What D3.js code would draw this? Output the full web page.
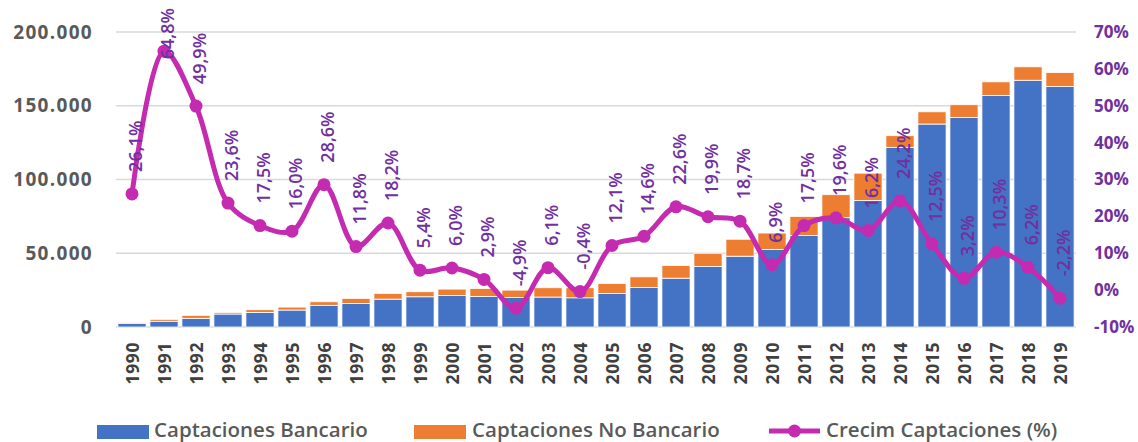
<!DOCTYPE html>
<html><head><meta charset="utf-8">
<script src="https://cdn.jsdelivr.net/npm/d3@7"></script>
<style>
html,body{margin:0;padding:0;background:#fff;}
svg{display:block;font-family:"Open Sans",sans-serif;}
</style></head>
<body><svg id="c" width="1138" height="442"></svg>
<script>
const years = ["1990","1991","1992","1993","1994","1995","1996","1997","1998","1999","2000","2001","2002","2003","2004","2005","2006","2007","2008","2009","2010","2011","2012","2013","2014","2015","2016","2017","2018","2019"];
const bancario = [2500,3900,5900,8800,9900,11500,14700,16000,18900,20500,21400,20700,20000,20300,19800,22800,26800,33100,41000,48000,52500,62000,74100,85800,121800,137600,142100,157000,167300,163000];
const noBancario = [400,1300,2000,1100,1800,2000,2400,3400,3900,3400,4300,5400,5000,6300,6800,6700,7200,8600,9000,11500,11200,13000,15600,18500,7900,8300,8600,9200,9100,9500];
const crecim = [26.1,64.8,49.9,23.6,17.5,16.0,28.6,11.8,18.2,5.4,6.0,2.9,-4.9,6.1,-0.4,12.1,14.6,22.6,19.9,18.7,6.9,17.5,19.6,16.2,24.2,12.5,3.2,10.3,6.2,-2.2];
const leftTicks = [0,50000,100000,150000,200000];
const rightTicks = [-10,0,10,20,30,40,50,60,70];
const seriesNames = ["Captaciones Bancario","Captaciones No Bancario","Crecim Captaciones (%)"];
const colors = ["#4472C4","#ED7D31","#C42BB0"];

const svg = d3.select("#c");
const x = d3.scaleBand().domain(years).range([116,1076]).paddingInner(0.12).paddingOuter(0.06);
const yL = d3.scaleLinear().domain([0,200000]).range([327,32]);
const yR = d3.scaleLinear().domain([-10,70]).range([327,32]);
const loc = d3.formatLocale({decimal:",",thousands:".",grouping:[3],currency:["",""],minus:"-"});
const fmtL = loc.format(",");
const fmtP = loc.format(".1f");

// gridlines
svg.append("g").selectAll("line").data(leftTicks).join("line")
  .attr("x1",116).attr("x2",1076)
  .attr("y1",d=>yL(d)).attr("y2",d=>yL(d))
  .attr("stroke","#d9d9d9").attr("stroke-width",1.5);

// left axis
const gL = svg.append("g").attr("transform","translate(96,0)")
  .call(d3.axisLeft(yL).tickValues(leftTicks).tickFormat(fmtL).tickSize(0).tickPadding(3));
gL.select(".domain").remove();
gL.selectAll("text").attr("font-family","Open Sans").attr("font-size",19).attr("font-weight",700)
  .attr("letter-spacing",1.3).attr("fill","#595959");

// right axis
const gR = svg.append("g").attr("transform","translate(1091,0)")
  .call(d3.axisRight(yR).tickValues(rightTicks).tickFormat(d=>loc.format("d")(d)+"%").tickSize(0).tickPadding(3));
gR.select(".domain").remove();
gR.selectAll("text").attr("font-family","Open Sans").attr("font-size",17).attr("font-weight",700).attr("fill","#7030A0");

// bars
const bw = x.bandwidth();
const gb = svg.append("g");
gb.selectAll("rect.b").data(years).join("rect").attr("class","b")
  .attr("x",d=>x(d)).attr("width",bw)
  .attr("y",(d,i)=>yL(bancario[i])).attr("height",(d,i)=>yL(0)-yL(bancario[i]))
  .attr("fill",colors[0]).attr("stroke","#fff").attr("stroke-width",0.8);
gb.selectAll("rect.n").data(years).join("rect").attr("class","n")
  .attr("x",d=>x(d)).attr("width",bw)
  .attr("y",(d,i)=>yL(bancario[i]+noBancario[i])).attr("height",(d,i)=>yL(bancario[i])-yL(bancario[i]+noBancario[i]))
  .attr("fill",colors[1]).attr("stroke","#fff").attr("stroke-width",0.8);

// x axis labels
const gX = svg.append("g").attr("transform","translate(0,337)")
  .call(d3.axisBottom(x).tickSize(0).tickPadding(0));
gX.select(".domain").remove();
gX.selectAll("text")
  .attr("font-family","Open Sans").attr("font-size",17.5).attr("font-weight",700).attr("fill","#404040")
  .attr("letter-spacing",0.6)
  .attr("transform","rotate(-90)").attr("text-anchor","end").attr("dy","0.36em").attr("x",-5).attr("y",1);

// line
const cx = d => x(d)+bw/2;
const line = d3.line().x((d,i)=>cx(years[i])).y(d=>yR(d)).curve(d3.curveCatmullRom.alpha(0.5));
svg.append("path").datum(crecim).attr("d",line).attr("fill","none")
  .attr("stroke",colors[2]).attr("stroke-width",5).attr("stroke-linejoin","round");
svg.append("g").selectAll("circle").data(crecim).join("circle")
  .attr("cx",(d,i)=>cx(years[i])).attr("cy",d=>yR(d)).attr("r",6.5).attr("fill",colors[2]);

// data labels
const gLab = svg.append("g");
crecim.forEach((v,i)=>{
  const px = cx(years[i])+3, py = yR(v);
  const t = gLab.append("text").text(fmtP(v)+"%")
    .attr("font-family","Open Sans").attr("font-size",18).attr("font-weight",600).attr("fill","#7030A0")
    .attr("dominant-baseline","central");
  const len = t.node().getComputedTextLength();
  let start = py-22;
  if (start-len < 8) start = 8+len;
  t.attr("transform",`translate(${px},${start}) rotate(-90)`);
});

// legend
const lg = svg.append("g");
lg.append("rect").attr("x",97).attr("y",425).attr("width",52).attr("height",14).attr("fill",colors[0]);
lg.append("rect").attr("x",414).attr("y",425).attr("width",52).attr("height",14).attr("fill",colors[1]);
lg.append("line").attr("x1",769).attr("x2",820).attr("y1",431).attr("y2",431).attr("stroke",colors[2]).attr("stroke-width",5);
lg.append("circle").attr("cx",794.5).attr("cy",431).attr("r",6.5).attr("fill",colors[2]);
const lx = [154,472,826];
seriesNames.forEach((s,i)=>{
  lg.append("text").attr("x",lx[i]).attr("y",437).text(s)
    .attr("font-family","Open Sans").attr("font-size",20.5).attr("font-weight",600).attr("fill","#595959");
});
</script></body></html>
